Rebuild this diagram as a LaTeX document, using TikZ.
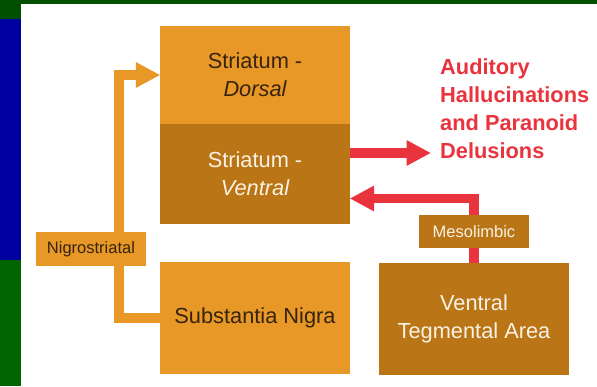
\documentclass[tikz,border=0pt]{standalone}
\usepackage{fontspec}
\setmainfont{Liberation Sans}
\usetikzlibrary{arrows.meta}

\definecolor{lightor}{RGB}{232,152,38}
\definecolor{darkor}{RGB}{185,117,22}
\definecolor{redc}{RGB}{233,52,62}
\definecolor{textdark}{RGB}{55,35,15}
\definecolor{textlight}{RGB}{250,242,228}
\definecolor{bandgreen}{RGB}{0,80,0}
\definecolor{stripgreen}{RGB}{0,100,0}
\definecolor{stripblue}{RGB}{0,0,160}

\tikzset{
  box/.style={rectangle, minimum width=190pt, inner sep=0pt, align=center,
    font=\fontsize{21.8}{28}\selectfont},
  lightbox/.style={box, fill=lightor, text=textdark},
  darkbox/.style={box, fill=darkor, text=textlight},
  tag/.style={rectangle, minimum width=110pt, inner sep=0pt,
    font=\fontsize{16.5}{20}\selectfont},
  pathway/.style={line width=9.5pt, line join=miter,
    -{Triangle[length=24pt 0, width=26pt 0, line width=0pt]}},
  effecttext/.style={inner sep=0pt, align=left, text=redc,
    font=\fontsize{21.8}{28}\selectfont\bfseries},
}

\begin{document}
\begin{tikzpicture}[x=1pt, y=-1pt]
\useasboundingbox (0,0) rectangle (597,386);

% slide background
\fill[white] (0,0) rectangle (597,386);
\fill[bandgreen] (0,0) rectangle (597,4);
\fill[bandgreen] (0,0) rectangle (21,19);
\fill[stripblue] (0,19) rectangle (21,260);
\fill[stripgreen] (0,260) rectangle (21,386);

% brain regions
\node[lightbox, minimum height=98pt] (dorsal) at (255,75)
  {Striatum -\\\itshape Dorsal};
\node[darkbox, minimum height=100pt] (ventral) at (255,174)
  {Striatum -\\\itshape Ventral};
\node[lightbox, minimum height=112pt] (sn) at (255,318) {Substantia Nigra};
\node[darkbox, minimum height=112pt] (vta) at (474,319)
  {Ventral\\Tegmental Area};

% symptoms
\node[effecttext, anchor=west] (symptoms) at (440,108.7)
  {Auditory\\Hallucinations\\and Paranoid\\Delusions};

% helper points for the pathway routes
\coordinate (nsrail) at (119,0);
\coordinate (mlrail) at (0,198.5);
\coordinate (effect) at (430.5,153);

% nigrostriatal pathway
\draw[pathway, lightor] (sn.west) -| (nsrail |- dorsal.west) -- (dorsal.west);
% mesolimbic pathway
\draw[pathway, redc] (vta.north) |- (ventral.east |- mlrail);
% output to symptoms
\draw[pathway, redc] (ventral.east |- effect) -- (effect);

% pathway labels
\node[tag, fill=lightor, text=textdark, minimum height=34pt] (ns) at (91,249)
  {Nigrostriatal};
\node[tag, fill=darkor, text=textlight, minimum height=33pt] (ml) at (474,231.5)
  {Mesolimbic};
\end{tikzpicture}
\end{document}
